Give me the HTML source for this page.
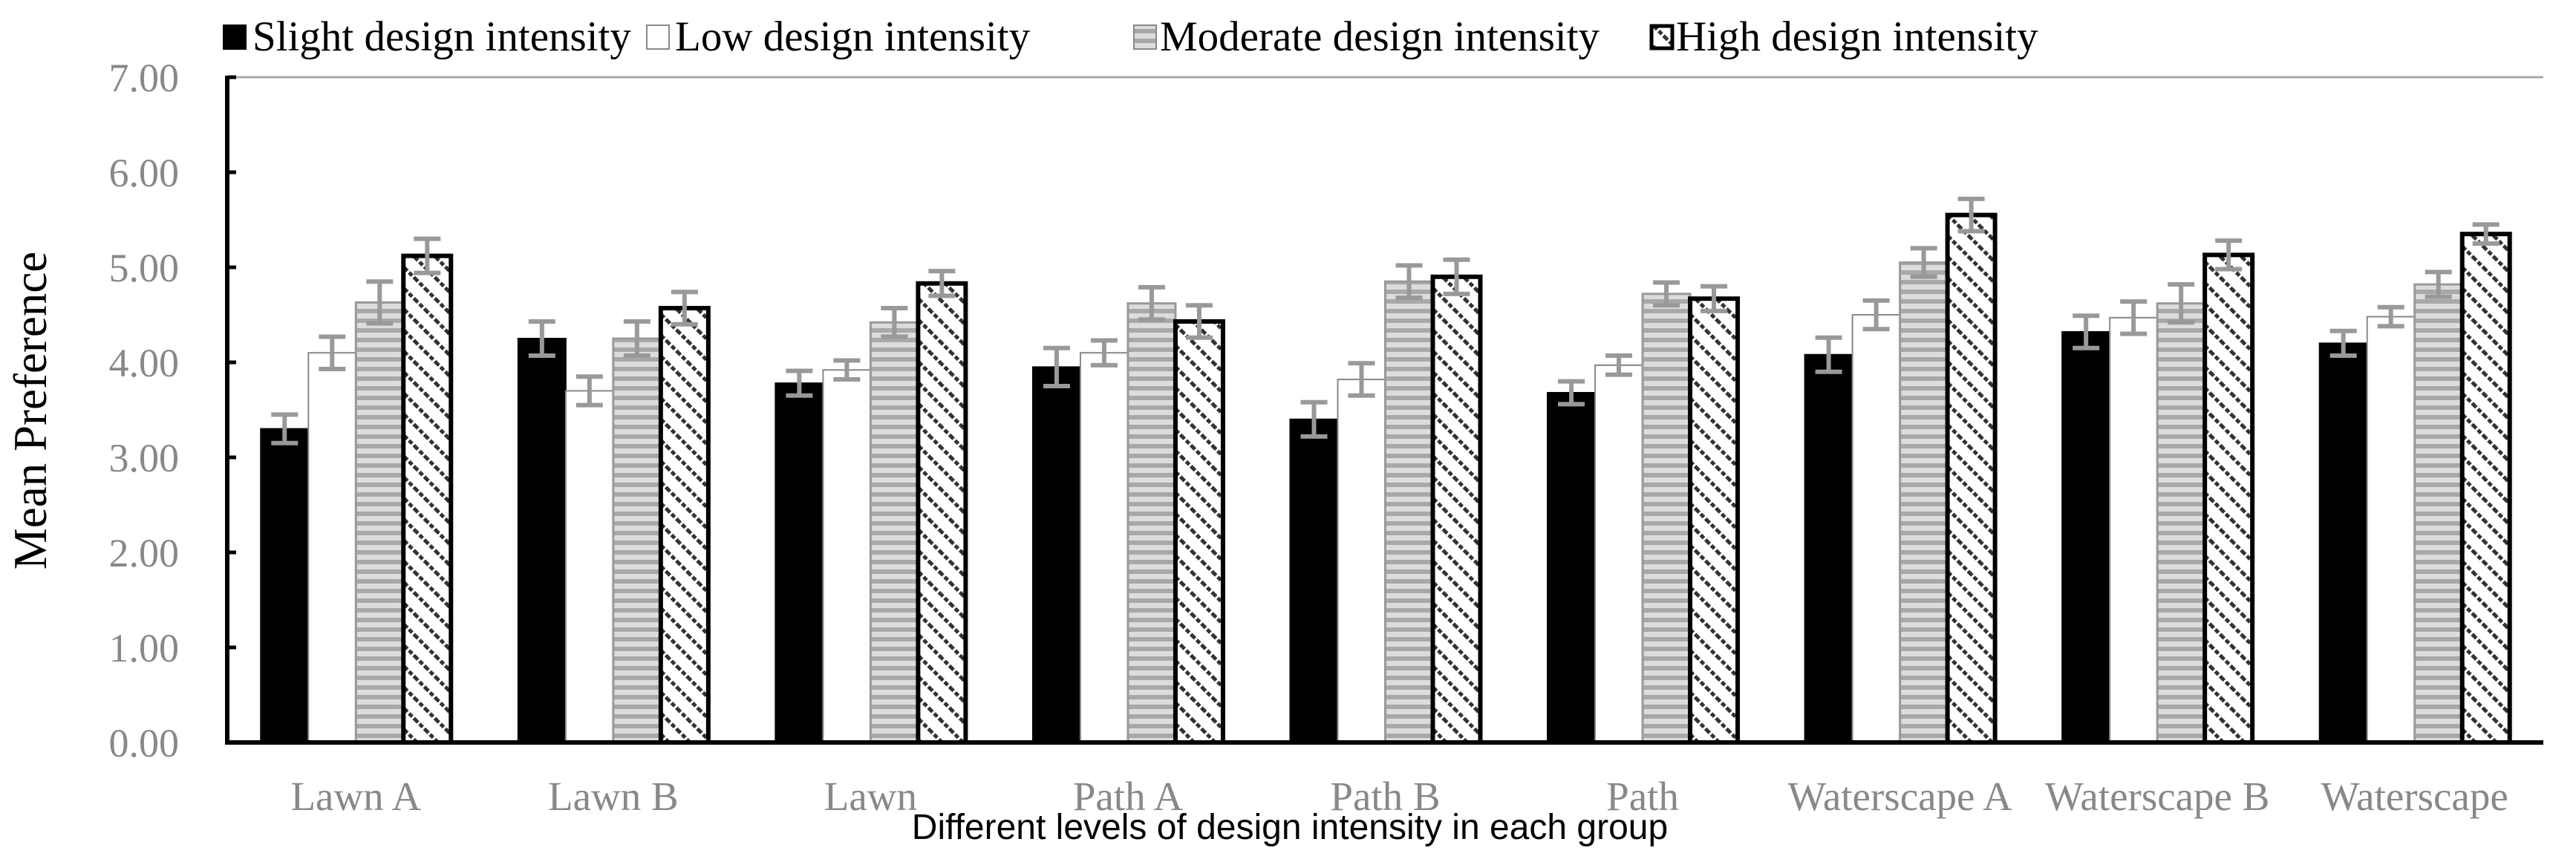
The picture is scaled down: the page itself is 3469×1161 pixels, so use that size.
<!DOCTYPE html>
<html><head><meta charset="utf-8"><style>
html,body{margin:0;padding:0;background:#fff;}
svg{display:block;}
</style></head><body>
<svg id="chart" width="3469" height="1161" viewBox="0 0 3469 1161" xmlns="http://www.w3.org/2000/svg">
<defs>
<pattern id="stripes" patternUnits="userSpaceOnUse" width="12" height="13">
<rect width="12" height="13" fill="#dcdcdc"/><rect y="0" width="12" height="6" fill="#a8a8a8"/>
</pattern>
<pattern id="hatch" patternUnits="userSpaceOnUse" width="20" height="20" patternTransform="rotate(45)">
<rect width="20" height="20" fill="#fff"/><line x1="0" y1="10" x2="20" y2="10" stroke="#333" stroke-width="5" stroke-dasharray="6 3"/>
</pattern>
</defs>
<g id="legend" font-family="Liberation Serif, serif" font-size="57" fill="#000">
<g><rect x="300" y="33" width="32" height="34" fill="#000"/><text x="340" y="68">Slight design intensity</text></g>
<g><rect x="871" y="34" width="30" height="32" fill="#fff" stroke="#888" stroke-width="2"/><text x="909" y="68">Low design intensity</text></g>
<g><rect x="1527" y="34" width="30" height="32" fill="url(#stripes)" stroke="#888" stroke-width="2"/><text x="1562" y="68">Moderate design intensity</text></g>
<g><rect x="2224" y="35" width="28" height="30" fill="url(#hatch)" stroke="#000" stroke-width="5"/><text x="2257" y="68">High design intensity</text></g>
</g>
<g id="plot"></g>
<text transform="translate(62,553) rotate(-90)" text-anchor="middle" font-family="Liberation Serif, serif" font-size="63" fill="#000">Mean  Preference</text>
<text x="1737" y="1130" text-anchor="middle" font-family="Liberation Sans, sans-serif" font-size="48" fill="#000">Different levels of design intensity in each group</text>
</svg>
<script>
const categories = ["Lawn A","Lawn B","Lawn","Path A","Path B","Path","Waterscape A","Waterscape B","Waterscape"];
const slight = [3.30,4.25,3.78,3.95,3.40,3.68,4.08,4.32,4.20];
const low = [4.10,3.70,3.92,4.10,3.82,3.97,4.50,4.47,4.48];
const moderate = [4.63,4.25,4.42,4.62,4.85,4.72,5.05,4.62,4.82];
const high = [5.12,4.57,4.83,4.43,4.90,4.67,5.55,5.13,5.35];
const slightErr = [0.15,0.18,0.13,0.20,0.18,0.12,0.18,0.17,0.13];
const lowErr = [0.17,0.15,0.10,0.13,0.17,0.10,0.15,0.17,0.10];
const moderateErr = [0.22,0.18,0.15,0.17,0.17,0.12,0.15,0.20,0.13];
const highErr = [0.18,0.17,0.13,0.17,0.18,0.13,0.17,0.15,0.10];
const yTicks = ["0.00","1.00","2.00","3.00","4.00","5.00","6.00","7.00"];

const NS = "http://www.w3.org/2000/svg";
const plotG = document.getElementById('plot');
const X0 = 306, X1 = 3425, Y0 = 1000, YTOP = 104, YMAX = 7;
const groupW = (X1 - X0) / categories.length;
const barW = 64;
function yScale(v){ return Y0 - (v / YMAX) * (Y0 - YTOP); }
function xBar(i, s){ return X0 + i * groupW + groupW / 2 - 2 * barW + s * barW; }
function mk(tag, attrs){ const e = document.createElementNS(NS, tag); for (const k in attrs) e.setAttribute(k, attrs[k]); return e; }

const topBorder = mk('line', {x1: X0, y1: YTOP, x2: X1, y2: YTOP, stroke: '#aaa', 'stroke-width': 3});


plotG.appendChild(topBorder);

yTicks.forEach((t) => {
  const v = parseFloat(t), y = yScale(v);
  const tk = mk('line', {x1: X0, y1: y, x2: X0 + 12, y2: y, stroke: '#000', 'stroke-width': 5});
  
  
  plotG.appendChild(tk);
  const lb = mk('text', {x: 241, y: y + 19, 'text-anchor': 'end', 'font-family': 'Liberation Serif, serif', 'font-size': 54, fill: '#888'});
  lb.textContent = t;
  
  
  plotG.appendChild(lb);
});

const series = [
  {vals: slight, err: slightErr, fill: '#000', stroke: '#000', sw: 2, name: 'slight'},
  {vals: low, err: lowErr, fill: '#fff', stroke: '#888', sw: 2, name: 'low'},
  {vals: moderate, err: moderateErr, fill: 'url(#stripes)', stroke: '#999', sw: 3, name: 'moderate'},
  {vals: high, err: highErr, fill: 'url(#hatch)', stroke: '#000', sw: 6, name: 'high'}
];
categories.forEach((c, i) => {
  series.forEach((s, k) => {
    const v = s.vals[i], x = xBar(i, k), y = yScale(v);
    const r = mk('rect', {x: x, y: y, width: barW, height: Y0 - y, fill: s.fill, stroke: s.stroke, 'stroke-width': s.sw});
    
    
    plotG.appendChild(r);
  });
  const lb = mk('text', {x: X0 + i * groupW + groupW / 2, y: 1091, 'text-anchor': 'middle', 'font-family': 'Liberation Serif, serif', 'font-size': 55, fill: '#888'});
  lb.textContent = c;
  
  
  plotG.appendChild(lb);
});
categories.forEach((c, i) => {
  series.forEach((s, k) => {
    const v = s.vals[i], e = s.err[i], cx = xBar(i, k) + barW / 2;
    const g = mk('g', {stroke: '#999', 'stroke-width': 6, fill: 'none'});
    
    
    g.appendChild(mk('line', {x1: cx, y1: yScale(v + e), x2: cx, y2: yScale(v - e)}));
    g.appendChild(mk('line', {x1: cx - 18, y1: yScale(v + e), x2: cx + 18, y2: yScale(v + e)}));
    g.appendChild(mk('line', {x1: cx - 18, y1: yScale(v - e), x2: cx + 18, y2: yScale(v - e)}));
    plotG.appendChild(g);
  });
});
const ya = mk('line', {x1: X0, y1: YTOP - 2, x2: X0, y2: Y0 + 3, stroke: '#000', 'stroke-width': 6});


plotG.appendChild(ya);
const xa = mk('line', {x1: X0 - 3, y1: Y0, x2: X1, y2: Y0, stroke: '#000', 'stroke-width': 6});


plotG.appendChild(xa);
</script>
</body></html>
